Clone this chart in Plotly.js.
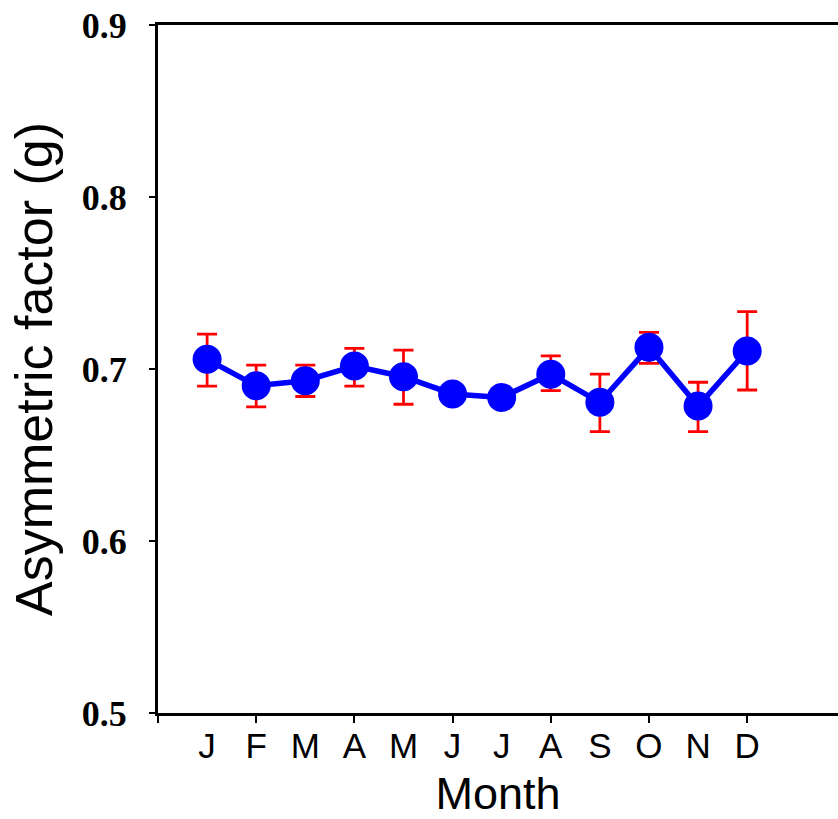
<!DOCTYPE html>
<html>
<head>
<meta charset="utf-8">
<script src="https://cdn.plot.ly/plotly-3.0.1.min.js"></script>
<style>
html,body{margin:0;padding:0;background:#fff;overflow:hidden;}
#chart{width:838px;height:819px;}
</style>
</head>
<body>
<div id="chart"></div>
<script>
const monthPos = [1,2,3,4,5,6,7,8,9,10,11,12];
const monthLabels = ['J','F','M','A','M','J','J','A','S','O','N','D'];
const gValues = [0.7056,0.6903,0.6932,0.7017,0.6955,0.6855,0.6835,0.6970,0.6806,0.7126,0.6785,0.7105];
const errPlus = [0.0147,0.0120,0.0090,0.0103,0.0155,0.0015,0.0015,0.0106,0.0164,0.0087,0.0138,0.0228];
const errMinus = [0.0156,0.0123,0.0092,0.0117,0.0160,0.0015,0.0015,0.0096,0.0170,0.0093,0.0149,0.0227];
const majorTicks = [0,2,4,6,8,10,12];

const trace = {
  x: monthPos,
  y: gValues,
  type: 'scatter',
  mode: 'lines+markers',
  line: {color: '#0000ff', width: 5.5},
  marker: {color: '#0000ff', size: 29},
  error_y: {type: 'data', symmetric: false, array: errPlus, arrayminus: errMinus,
            color: '#ff0000', thickness: 2.8, width: 10},
  showlegend: false,
  hoverinfo: 'x+y'
};

const layout = {
  width: 838, height: 819,
  margin: {l: 158, r: 0, t: 25, b: 106},
  paper_bgcolor: '#ffffff', plot_bgcolor: '#ffffff',
  xaxis: {
    range: [0, 13.85],
    tickmode: 'array', tickvals: monthPos, ticktext: monthLabels,
    ticks: '', ticklabelstandoff: 0,
    minor: {tickmode: 'array', tickvals: majorTicks, ticks: 'outside', ticklen: 7, tickwidth: 2, tickcolor: '#000', showgrid: false},
    showline: true, linecolor: '#000', linewidth: 3, mirror: true,
    showgrid: false, zeroline: false,
    tickfont: {family: 'Liberation Sans, Arial, sans-serif', size: 35, color: '#000'},
    title: {text: 'Month', font: {family: 'Liberation Sans, Arial, sans-serif', size: 45, color: '#000'}, standoff: 24}
  },
  yaxis: {
    range: [0.5, 0.9],
    tickmode: 'array', tickvals: [0.5,0.6,0.7,0.8,0.9], ticktext: ['0.5','0.6','0.7','0.8','0.9'],
    ticks: 'outside', ticklen: 6, tickwidth: 2, tickcolor: '#000',
    ticklabelstandoff: 15,
    showline: true, linecolor: '#000', linewidth: 3,
    showgrid: false, zeroline: false,
    tickfont: {family: 'Liberation Serif, Times New Roman, serif', size: 36, color: '#000', weight: 'bold'},
    title: {text: 'Asymmetric factor (g)', font: {family: 'Liberation Sans, Arial, sans-serif', size: 52, color: '#000'}, standoff: 13}
  }
};

Plotly.newPlot('chart', [trace], layout, {displayModeBar: false, staticPlot: true});
</script>
</body>
</html>
